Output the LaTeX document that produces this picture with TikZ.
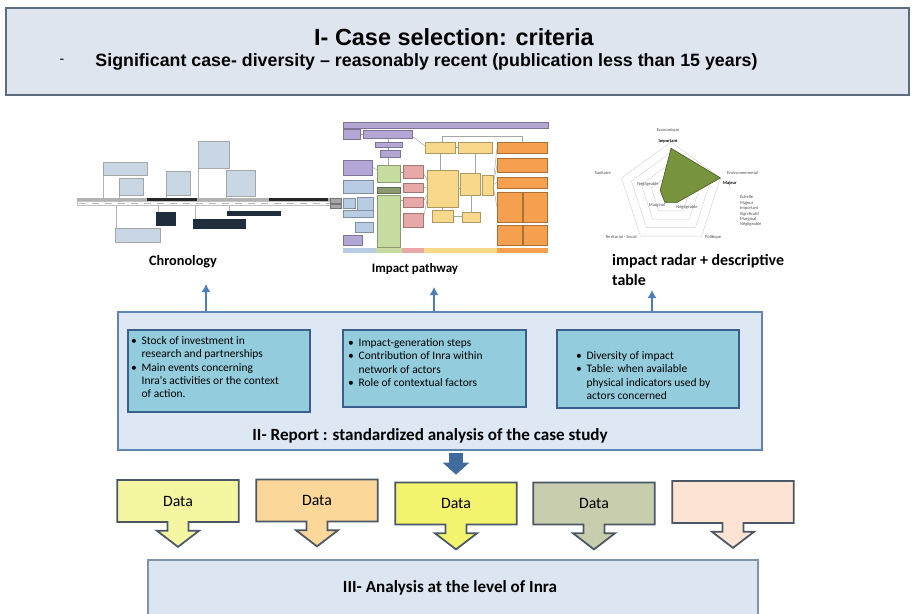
\documentclass[tikz,border=0pt]{standalone}
\usepackage{fontspec}
\setmainfont{Liberation Sans}
\newfontfamily\calfont{Carlito}
\usepackage{xcolor}
\definecolor{critFill}{HTML}{DFE5EF}
\definecolor{critLine}{HTML}{5D6D7E}
\definecolor{repFill}{HTML}{DDE8F4}
\definecolor{repLine}{HTML}{5F86B3}
\definecolor{stepFill}{HTML}{93CDDD}
\definecolor{stepLine}{HTML}{3A5F8C}
\definecolor{flowBlue}{HTML}{4A7EBB}
\definecolor{datA}{HTML}{F4F6A2}
\definecolor{datB}{HTML}{FBD79A}
\definecolor{datC}{HTML}{F2F46E}
\definecolor{datD}{HTML}{C8CDAE}
\definecolor{datE}{HTML}{FCE3D3}
\definecolor{datLine}{HTML}{4B5766}
\definecolor{lvlFill}{HTML}{DCE6F2}
\definecolor{lvlLine}{HTML}{8094AC}
\definecolor{chLight}{HTML}{C9D6E4}
\definecolor{chDark}{HTML}{1F2D3D}
\definecolor{pwPurple}{HTML}{B4A7D6}
\definecolor{pwBlue}{HTML}{B8CCE4}
\definecolor{pwGreen}{HTML}{C7DCA0}
\definecolor{pwRed}{HTML}{E6A9A8}
\definecolor{pwYellow}{HTML}{F8D98C}
\definecolor{pwOrange}{HTML}{F5A04E}
\definecolor{pwGray}{HTML}{A6A6A6}
\definecolor{radGreen}{HTML}{77933C}
\usepackage{tikz}
\usetikzlibrary{arrows.meta, shapes.arrows}

\begin{document}
\begin{tikzpicture}[
  x=0.03cm, y=-0.03cm,
  critbox/.style={draw=critLine, fill=critFill, line width=1.8pt,
    minimum width=27.09cm, minimum height=2.61cm, inner sep=0pt},
  repbox/.style={draw=repLine, fill=repFill, line width=1.3pt, inner sep=0pt},
  stepbox/.style={draw=stepLine, fill=stepFill, line width=1.5pt, inner sep=0pt},
  steptext/.style={anchor=north west, inner sep=0pt,
    font=\calfont\fontsize{9.8}{11.35}\selectfont},
  label/.style={font=\calfont\bfseries\fontsize{14.6}{17}\selectfont},
  thumb/.style={font=\calfont\bfseries\fontsize{12.2}{17}\selectfont},
  datacall/.style={arrow box, draw=datLine, line width=1.5pt,
    minimum width=3.64cm, minimum height=1.26cm, inner sep=0pt,
    arrow box arrows={south:0.72cm from border},
    arrow box shaft width=0.63cm, arrow box head extend=0.315cm,
    arrow box tip angle=105,
    font=\calfont\fontsize{13.5}{16}\selectfont},
  uparrow/.style={draw=flowBlue, line width=1.6pt,
    -{Latex[length=7pt, width=8pt]}},
  blockarrow/.style={draw=flowBlue!85!black, line width=0.42cm,
    -{Triangle[length=0.36cm, width=0.78cm]}},
  tiny/.style={font=\calfont\fontsize{3.8}{4.6}\selectfont,
    text=gray!60!black, inner sep=0pt}
]
  \useasboundingbox (0,0) rectangle (913,614);

  % I- selection criteria
  \node[critbox] (crit) at (457.5,51.5) {};
  \node[font=\bfseries\fontsize{20}{24}\selectfont] (critTitle) at (454,37)
    {I- Case selection: criteria};
  \node[font=\bfseries\fontsize{15.2}{18}\selectfont] (critSub) at (426.5,62)
    {Significant case- diversity -- reasonably recent (publication less than 15 years)};
  \node[font=\fontsize{12}{14}\selectfont] (critDash) at (62,61) {-};

  % Chronology sketch
  \fill[gray!60] (77,198) rectangle (340,201.5);
  \fill[black!85] (147,198) rectangle (197,201.5);
  \fill[black!85] (269,198) rectangle (328,201.5);
  \draw[gray!50, line width=0.2pt, fill=white] (77,201.5) rectangle (340,205.5);
  \foreach \x in {79,92,...,335}
    \fill[gray!55] (\x,203) rectangle ++(7,1);
  \foreach \xa/\ya/\xb/\yb in {103/162/147/175, 119/178/143/195,
    166/171/190/195, 198/141/229/168, 226/170/255/196}{
    \draw[gray!60, line width=0.3pt] (\xa,\yb) -- (\xa,198);
    \draw[gray!70, line width=0.3pt, fill=chLight] (\xa,\ya) rectangle (\xb,\yb);
  }
  \draw[gray!60, line width=0.3pt] (116,205.5) -- (116,228);
  \draw[gray!70, line width=0.3pt, fill=chLight] (115,228) rectangle (160,242);
  \foreach \xa/\ya/\xb/\yb in {156/212/176/226, 193/219/246/229, 227/211/281/216}{
    \draw[gray!60, line width=0.3pt] (\xa+2,205.5) -- (\xa+2,\ya);
    \fill[chDark] (\xa,\ya) rectangle (\xb,\yb);
  }
  \node[thumb] (chrono) at (183,262) {Chronology};

  % Impact pathway sketch
  \foreach \xa/\ya/\xb/\yb in {388/138/388/142, 388/147/388/150, 388/157/388/165,
    372/167/377/170, 412/136/425/146, 455/147/458/147, 475/153/475/173,
    440/153/440/170, 493/185/497/148, 493/185/497/165, 493/185/497/182,
    493/185/497/207, 458/188/460/188, 442/207/442/210, 453/216/462/216,
    471/195/471/212, 400/172/403/172, 423/172/427/180, 423/187/427/188,
    423/202/427/195, 400/200/403/200, 423/220/427/200, 360/134/363/134}
    \draw[gray!70, line width=0.4pt] (\xa,\ya) -- (\xb,\yb);
  \draw[gray!70, line width=0.4pt] (442,142) -- (442,136) -- (522,136) -- (522,142);
  \foreach \xa/\ya/\xb/\yb/\c in {
    343/122/548/128/pwPurple, 343/129/360/139/pwPurple, 363/130/412/138/pwPurple,
    375/142/402/147/pwPurple, 380/150/400/157/pwPurple, 343/160/372/175/pwPurple,
    343/235/362/245/pwPurple,
    343/180/373/193/pwBlue, 343/198/355/208/pwBlue, 357/197/373/210/pwBlue,
    343/210/373/217/pwBlue, 355/222/373/232/pwBlue,
    377/165/400/182/pwGreen, 377/187/400/193/pwGreen!70!black, 377/195/400/247/pwGreen,
    403/165/423/178/pwRed, 403/183/423/192/pwRed, 403/197/423/207/pwRed,
    403/213/423/227/pwRed,
    425/142/455/153/pwYellow, 458/142/492/153/pwYellow, 427/170/458/207/pwYellow,
    460/173/480/195/pwYellow, 482/175/493/195/pwYellow, 432/210/453/222/pwYellow,
    462/212/480/222/pwYellow,
    497/142/547/153/pwOrange, 497/158/547/172/pwOrange, 497/177/547/188/pwOrange,
    497/192/522/222/pwOrange, 523/192/547/222/pwOrange, 497/225/522/245/pwOrange,
    523/225/547/245/pwOrange,
    330/198/341/203/pwGray, 330/204/341/208/pwGray}
    \filldraw[fill=\c, draw=\c!70!black, line width=0.3pt] (\xa,\ya) rectangle (\xb,\yb);
  \foreach \xa/\xb/\c in {343/376/pwBlue, 376/402/pwGreen, 402/424/pwRed,
    424/497/pwYellow, 497/548/pwOrange}
    \fill[\c] (\xa,248) rectangle (\xb,253);
  \node[thumb, font=\calfont\bfseries\fontsize{11}{14}\selectfont] (pathway)
    at (415,269) {Impact pathway};

  % Impact radar sketch
  \begin{scope}[shift={(671,194)}]
    \foreach \k in {1,...,5}
      \draw[gray!35, line width=0.35pt] (270:\k*10.4) -- (342:\k*10.4)
        -- (54:\k*10.4) -- (126:\k*10.4) -- (198:\k*10.4) -- cycle;
    \filldraw[fill=radGreen, draw=radGreen!60!black, line width=0.5pt]
      (270:45.8) -- (342:52) -- (54:10.4) -- (126:10.4) -- (198:11.4) -- cycle;
  \end{scope}
  \node[tiny] (rEco) at (668,130) {Economique};
  \node[tiny, text=black] (rImp) at (668,141) {\bfseries Important};
  \node[tiny, anchor=west] (rEnv) at (727,173) {Environnemental};
  \node[tiny, anchor=west, text=black] (rMaj) at (723,183) {\bfseries Majeur};
  \node[tiny, anchor=west] (rPol) at (705,237) {Politique};
  \node[tiny, anchor=east] (rTer) at (637,237) {Territorial - Social};
  \node[tiny, anchor=east] (rSan) at (611,173) {Sanitaire};
  \node[tiny] (rNeg) at (648,184) {Négligeable};
  \node[tiny] (rMar) at (657,205) {Marginal};
  \node[tiny] (rNeg2) at (687,207) {Négligeable};
  \node[tiny, anchor=north west, align=left] (rScale) at (740,195)
    {Échelle\\Majeur\\Important\\Significatif\\Marginal\\Négligeable};
  \node[thumb, anchor=north west, align=left,
    font=\calfont\bfseries\fontsize{13.6}{17}\selectfont] (radar)
    at (608,250) {impact radar + descriptive\\table};

  % II- Report
  \node[repbox, minimum width=19.32cm, minimum height=4.14cm] (report)
    at (440,381) {};
  \node[stepbox, minimum width=5.46cm, minimum height=2.46cm] (s1) at (219,371) {};
  \node[stepbox, minimum width=5.49cm, minimum height=2.31cm] (s2) at (434.5,368.5) {};
  \node[stepbox, minimum width=5.46cm, minimum height=2.34cm] (s3) at (648,369) {};
  \node[steptext] (s1txt) at (131,335) {%
    \begin{tabular}{@{}l@{\hspace{4pt}}l@{}}
      \textbullet & Stock of investment in\\
                  & research and partnerships\\
      \textbullet & Main events concerning\\
                  & Inra's activities or the context\\
                  & of action.
    \end{tabular}};
  \node[steptext] (s2txt) at (348,337) {%
    \begin{tabular}{@{}l@{\hspace{4pt}}l@{}}
      \textbullet & Impact-generation steps\\
      \textbullet & Contribution of Inra within\\
                  & network of actors\\
      \textbullet & Role of contextual factors
    \end{tabular}};
  \node[steptext] (s3txt) at (576,350) {%
    \begin{tabular}{@{}l@{\hspace{4pt}}l@{}}
      \textbullet & Diversity of impact\\
      \textbullet & Table: when available\\
                  & physical indicators used by\\
                  & actors concerned
    \end{tabular}};
  \node[label] (repTitle) at (430,436)
    {II- Report : standardized analysis of the case study};

  % links up to the three outputs
  \coordinate (upA) at (206,284);
  \coordinate (upB) at (434,287);
  \coordinate (upC) at (652,290);
  \draw[uparrow] (report.north -| upA) -- (upA);
  \draw[uparrow] (report.north -| upB) -- (upB);
  \draw[uparrow] (report.north -| upC) -- (upC);

  % Data callouts
  \node[datacall, fill=datA] (d1) at (178,501) {Data};
  \node[datacall, fill=datB] (d2) at (317,500.5) {Data};
  \node[datacall, fill=datC] (d3) at (456,503.5) {Data};
  \node[datacall, fill=datD] (d4) at (594,503.5) {Data};
  \node[datacall, fill=datE] (d5) at (733,502) {};
  \draw[blockarrow, shorten <=0.06cm, shorten >=0.21cm]
    (report.south -| d3.north) -- (d3.north);

  % III- Analysis at the level of Inra
  \node[draw=lvlLine, fill=lvlFill, line width=1.3pt, inner sep=0pt,
    minimum width=18.3cm, minimum height=1.74cm] (lvl) at (453,589) {};
  \node[label] (lvlTitle) at (450,588) {III- Analysis at the level of Inra};
\end{tikzpicture}
\end{document}
